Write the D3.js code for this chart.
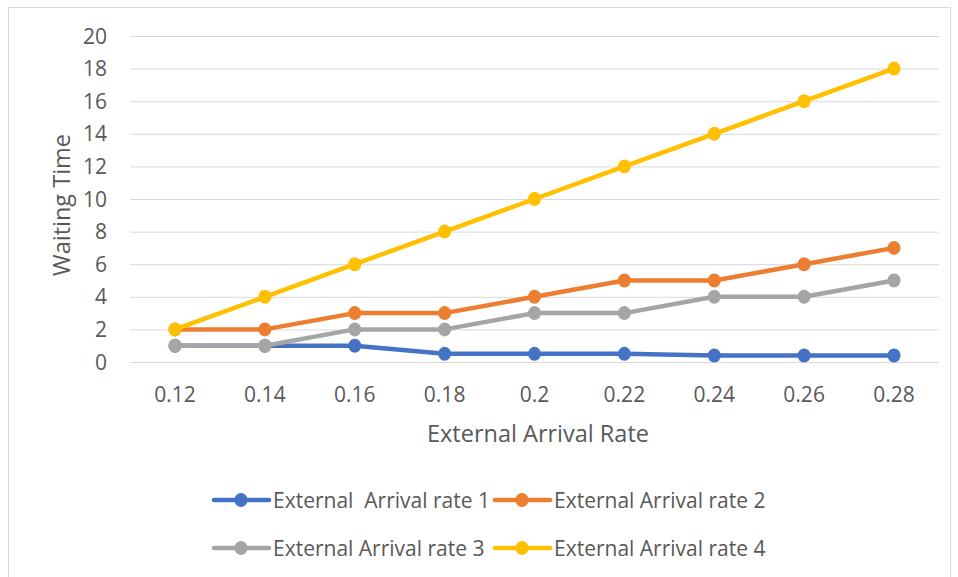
<!DOCTYPE html>
<html><head><meta charset="utf-8">
<script src="https://cdn.jsdelivr.net/npm/d3@7"></script>
<style>body{margin:0;background:#fff}text{font-family:"Open Sans","Noto Sans",sans-serif}</style>
</head><body><svg id="c" width="958" height="577"></svg>
<script>
const categories = ["0.12","0.14","0.16","0.18","0.2","0.22","0.24","0.26","0.28"];
const rate1 = [1,1,1,0.5,0.5,0.5,0.4,0.4,0.4];
const rate2 = [2,2,3,3,4,5,5,6,7];
const rate3 = [1,1,2,2,3,3,4,4,5];
const rate4 = [2,4,6,8,10,12,14,16,18];
const seriesNames = ["External  Arrival rate 1","External Arrival rate 2","External Arrival rate 3","External Arrival rate 4"];
const yTicks = [0,2,4,6,8,10,12,14,16,18,20];
const colors = ["#4472C4","#ED7D31","#A5A5A5","#FFC000"];
const series = [rate1,rate2,rate3,rate4];

const svg = d3.select("#c");
svg.append("rect").attr("x",8.5).attr("y",7.5).attr("width",942).attr("height",580).attr("fill","#fff").attr("stroke","#d9d9d9");

const x = d3.scalePoint().domain(categories).range([175,894]);
const y = d3.scaleLinear().domain([0,20]).range([362,36]);

const g = svg.append("g");
g.selectAll("line.grid").data(yTicks).enter().append("line")
  .attr("x1",130).attr("x2",939).attr("y1",d=>y(d)+0.5).attr("y2",d=>y(d)+0.5)
  .attr("stroke","#d9d9d9").attr("stroke-width",1);
g.selectAll("text.yt").data(yTicks).enter().append("text")
  .attr("x",107).attr("y",d=>y(d)+7.5).attr("text-anchor","end")
  .attr("font-size",21).attr("fill","#595959").text(d=>d);
g.selectAll("text.xt").data(categories).enter().append("text")
  .attr("x",d=>x(d)).attr("y",401.5).attr("text-anchor","middle")
  .attr("font-size",21).attr("fill","#595959").text(d=>d);
svg.append("text").attr("x",538).attr("y",442).attr("text-anchor","middle")
  .attr("font-size",23.5).attr("fill","#595959").text("External Arrival Rate");
svg.append("text").attr("transform","translate(70,205) rotate(-90)").attr("text-anchor","middle")
  .attr("font-size",23.5).attr("fill","#595959").text("Waiting Time");

const line = d3.line().x((d,i)=>x(categories[i])).y(d=>y(d));
series.forEach((s,k)=>{
  const sg = svg.append("g");
  sg.append("path").datum(s).attr("d",line).attr("fill","none").attr("stroke",colors[k]).attr("stroke-width",4.5).attr("stroke-linejoin","round");
  sg.selectAll("ellipse").data(s).enter().append("ellipse")
    .attr("cx",(d,i)=>x(categories[i])).attr("cy",d=>y(d)).attr("rx",6.5).attr("ry",7).attr("fill",colors[k]);
});

const legendPos = [[214,500],[495,500],[214,548],[495,548]];
seriesNames.forEach((n,k)=>{
  const [lx,ly] = legendPos[k];
  const lg = svg.append("g");
  lg.append("line").attr("x1",lx).attr("x2",lx+55).attr("y1",ly).attr("y2",ly).attr("stroke",colors[k]).attr("stroke-width",4.5).attr("stroke-linecap","round");
  lg.append("ellipse").attr("cx",lx+27).attr("cy",ly).attr("rx",6.5).attr("ry",7).attr("fill",colors[k]);
  lg.append("text").attr("x",lx+59).attr("y",ly+7.5).attr("font-size",21).attr("fill","#595959")
    .style("white-space","pre").text(n);
});
</script></body></html>
